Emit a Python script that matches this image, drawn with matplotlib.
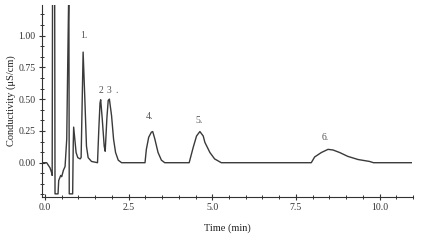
import matplotlib
matplotlib.use("Agg")
import matplotlib.pyplot as plt
from matplotlib.ticker import FixedLocator, FixedFormatter

# chromatogram trace (time in min, conductivity in uS/cm)
time_min = [-0.09, 0.05, 0.15, 0.20, 0.215, 0.225, 0.29, 0.30, 0.31, 0.39, 0.41, 0.44,
            0.47, 0.50, 0.55, 0.60, 0.65, 0.68, 0.705, 0.715, 0.725, 0.827, 0.845, 0.857,
            0.93, 0.98, 1.05, 1.08, 1.14, 1.19, 1.24, 1.29, 1.39, 1.57, 1.61, 1.645,
            1.665, 1.71, 1.77, 1.80, 1.85, 1.89, 1.925, 1.99, 2.05, 2.11, 2.19, 2.29,
            2.99, 3.03, 3.10, 3.18, 3.22, 3.28, 3.38, 3.48, 3.58, 4.31, 4.43, 4.53,
            4.63, 4.73, 4.78, 4.93, 5.07, 5.27, 7.96, 8.06, 8.26, 8.46, 8.61, 8.81,
            9.05, 9.36, 9.70, 9.82, 10.95]
conductivity = [0.0, 0.0, -0.04, -0.08, -0.10, 1.25, 1.25, -0.245, -0.245, -0.245, -0.14, -0.12,
                -0.10, -0.11, -0.06, -0.03, 0.185, 0.78, 1.25, 1.25, -0.245, -0.245, 0.15, 0.28,
                0.08, 0.04, 0.03, 0.04, 0.87, 0.51, 0.13, 0.04, 0.01, 0.0, 0.27, 0.47,
                0.495, 0.35, 0.13, 0.09, 0.35, 0.49, 0.50, 0.37, 0.185, 0.08, 0.02, 0.0,
                0.0, 0.105, 0.20, 0.24, 0.245, 0.19, 0.08, 0.02, 0.0, 0.0, 0.12, 0.21,
                0.245, 0.21, 0.16, 0.08, 0.03, 0.0, 0.0, 0.045, 0.08, 0.105, 0.10, 0.08,
                0.05, 0.025, 0.01, 0.0, 0.0]

peak_labels = ["1.", "2", "3", ".", "4.", "5.", "6."]
peak_label_x = [1.16, 1.67, 1.91, 2.13, 3.13, 4.60, 8.39]
peak_label_y = [1.00, 0.565, 0.565, 0.565, 0.363, 0.33, 0.20]

x_major = [0.0, 2.5, 5.0, 7.5, 10.0]
x_major_labels = ["0.0", "2.5", "5.0", "7.5", "10.0"]
y_major = [0.0, 0.25, 0.5, 0.75, 1.0]
y_major_labels = ["0.00", "0.25", "0.50", "0.75", "1.00"]

serif = ["Liberation Serif", "DejaVu Serif"]
plt.rcParams["font.family"] = serif

fig = plt.figure(figsize=(4.24, 2.40), dpi=100)
ax = fig.add_axes([0.099, 0.179, 0.875, 0.80])

ax.plot(time_min, conductivity, color="#3a3a3a", linewidth=1.0)

for lab, lx, ly in zip(peak_labels, peak_label_x, peak_label_y):
    ax.text(lx, ly, lab, fontsize=7, color="#555555", ha="center", va="center")

ax.set_xlim(-0.09, 11.0)
ax.set_ylim(-0.27, 1.24)

ax.xaxis.set_major_locator(FixedLocator(x_major))
ax.xaxis.set_major_formatter(FixedFormatter(x_major_labels))
ax.xaxis.set_minor_locator(FixedLocator([i * 0.5 for i in range(0, 23)]))
ax.yaxis.set_major_locator(FixedLocator(y_major))
ax.yaxis.set_major_formatter(FixedFormatter(y_major_labels))
ax.yaxis.set_minor_locator(FixedLocator([-0.25 + i * 0.25 / 3 for i in range(0, 18)]))

ax.tick_params(axis="both", which="major", direction="inout", length=5, width=0.8,
               labelsize=7, colors="#333333", pad=2)
ax.tick_params(axis="both", which="minor", direction="inout", length=3, width=0.7,
               colors="#333333")

for side in ["top", "right"]:
    ax.spines[side].set_visible(False)
for side in ["left", "bottom"]:
    ax.spines[side].set_color("#333333")
    ax.spines[side].set_linewidth(0.8)

ax.set_xlabel("Time (min)", fontsize=7.5, color="#222222", labelpad=8)
ax.set_ylabel("Conductivity (μS/cm)", fontsize=7.5, color="#222222", labelpad=2)

fig.savefig("out.png", dpi=100, facecolor="white")
